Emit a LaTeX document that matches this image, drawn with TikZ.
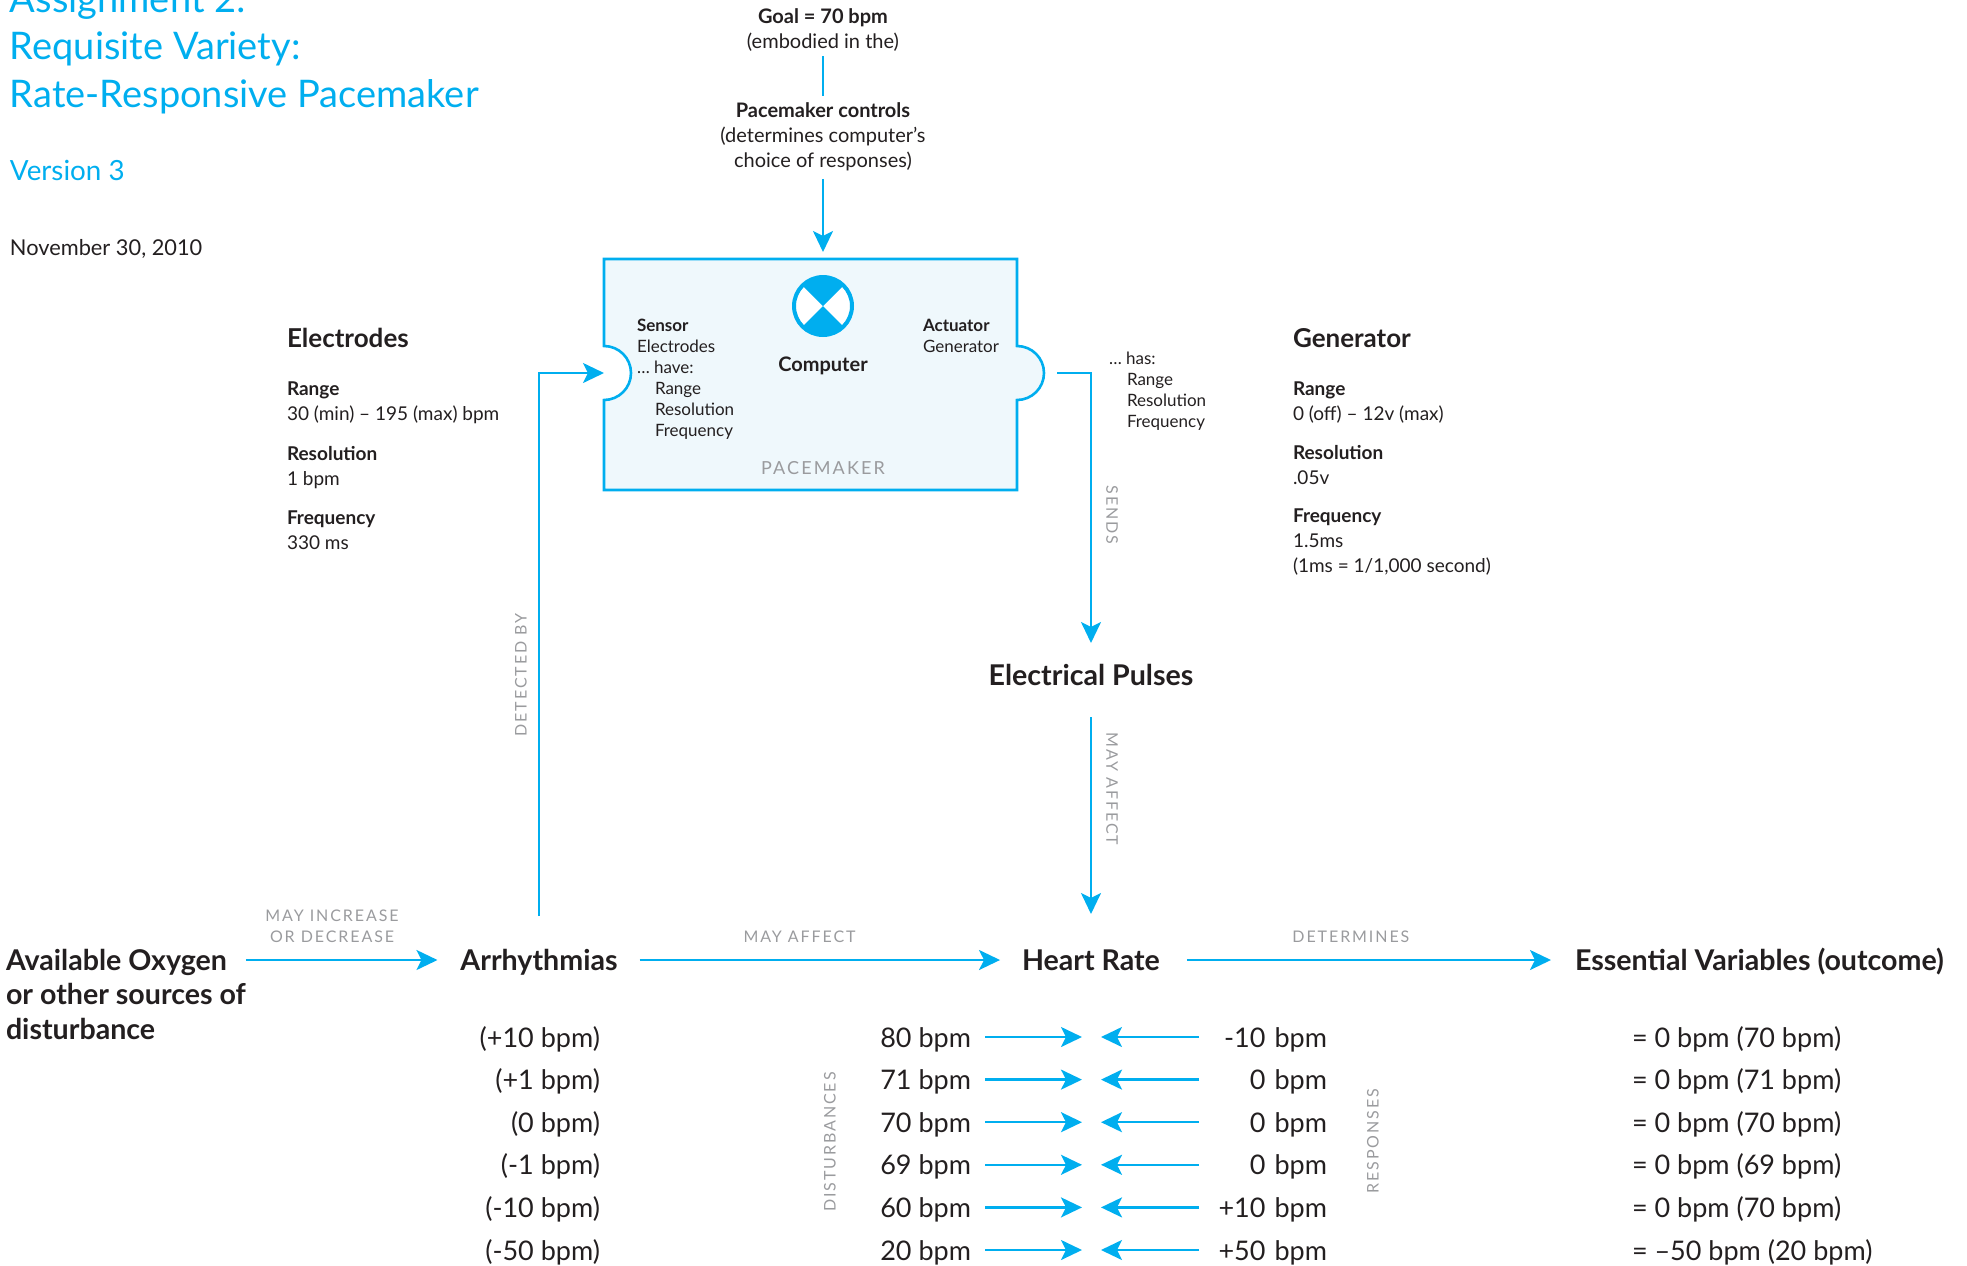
\documentclass[tikz,border=0pt]{standalone}
\usepackage{fontspec}
\setmainfont{Lato}
\newfontfamily\capsfont[LetterSpace=12]{Lato}
\usetikzlibrary{arrows.meta}
\definecolor{sky}{HTML}{00AEEF}
\definecolor{ink}{HTML}{231F20}
\definecolor{mist}{HTML}{9A9B9E}
\definecolor{paleblue}{HTML}{EFF8FC}
\tikzset{
    every node/.style={inner sep=0pt, outer sep=0pt, text=ink}
}
\tikzset{
    flow/.style={draw=sky, line width=1.2pt,
        -{Stealth[length=10.5pt, width=10pt, inset=2.5pt]}},
    wire/.style={draw=sky, line width=1.2pt}
}
\tikzset{
    heading/.style={font=\fontsize{19}{23.75}\selectfont, text=sky},
    note/.style={font=\fontsize{10}{12.4}\selectfont},
    small/.style={font=\fontsize{8.5}{10.5}\selectfont},
    head/.style={font=\bfseries\fontsize{13}{15}\selectfont},
    spec/.style={font=\fontsize{9.5}{12.3}\selectfont},
    bigtext/.style={font=\bfseries\fontsize{14.3}{17.25}\selectfont},
    big/.style={bigtext, text height=11pt, text depth=1pt},
    rowtext/.style={font=\fontsize{13.5}{16}\selectfont, text height=10pt,
        text depth=0pt},
    tag/.style={font=\capsfont\fontsize{8}{10.5}\selectfont, text=mist}
}

\begin{document}
\begin{tikzpicture}[x=0.5pt,y=0.5pt]
  \useasboundingbox (0,0) rectangle (1967,-1265);

  \node (title) [heading, anchor=base west, align=left] at (10,-107)
    {Assignment 2:\\Requisite Variety:\\Rate-Responsive Pacemaker};
  
  \node (version) [anchor=base west, text=sky,
    font=\fontsize{13.9}{16}\selectfont] at (10,-180) {Version 3};
  
  \node (date) [anchor=base west, font=\fontsize{10.9}{13}\selectfont]
    at (10,-255) {November 30, 2010};
  
  \node (goal) [note, align=center, anchor=base] at (823,-48)
    {\textbf{Goal = 70 bpm}\\(embodied in the)};
  
  \node (ctrl) [note, align=center, anchor=base] at (823,-167)
    {\textbf{Pacemaker controls}\\(determines computer’s\\choice of responses)};
  
  \draw [sky, line width=1.3pt, fill=paleblue] (604,-259) -- (1017,-259)
    -- (1017,-346) arc (90:-90:27) -- (1017,-490) -- (604,-490)
    -- (604,-400) arc (-90:90:27) -- cycle;
  \node (pacer) [minimum width=206.5pt, minimum height=115.5pt]
    at (810.5,-374.5) {};
  \coordinate (inport) at (604,-373);
  \coordinate (outport) at (1057,-373);
  
  \node (cpu) [circle, draw=sky, line width=2pt, fill=white,
    minimum size=29pt] at (823,-306) {};
  \fill [sky] (cpu.center) -- +(45:29) arc (45:135:29) -- cycle;
  \fill [sky] (cpu.center) -- +(225:29) arc (225:315:29) -- cycle;
  
  \node (sensor) [small, anchor=base west, align=left] at (637,-436)
    {\textbf{Sensor}\\Electrodes\\… have:\\\hspace*{9pt}Range\\
     \hspace*{9pt}Resolution\\\hspace*{9pt}Frequency};
  
  \node (actuator) [small, anchor=base west, align=left] at (923,-352)
    {\textbf{Actuator}\\Generator};
  
  \node (computer) [anchor=base, font=\bfseries\fontsize{10}{12}\selectfont]
    at (823,-371) {Computer};
  
  \node (pacemaker) [anchor=base, text=mist,
    font=\capsfont\fontsize{9}{10}\selectfont] at (823,-474) {PACEMAKER};
  
  \node (has) [small, anchor=base west, align=left] at (1109,-427)
    {… has:\\\hspace*{9pt}Range\\\hspace*{9pt}Resolution\\
     \hspace*{9pt}Frequency};
  
  \node (electrodes) [head, anchor=base west] at (287,-347) {Electrodes};
  \node (erange) [spec, anchor=base west, align=left] at (287,-420)
    {\textbf{Range}\\30 (min) – 195 (max) bpm};
  \node (eres) [spec, anchor=base west, align=left] at (287,-485)
    {\textbf{Resolution}\\1 bpm};
  \node (efreq) [spec, anchor=base west, align=left] at (287,-549)
    {\textbf{Frequency}\\330 ms};
  
  \node (generator) [head, anchor=base west] at (1293,-347) {Generator};
  \node (grange) [spec, anchor=base west, align=left] at (1293,-420)
    {\textbf{Range}\\0 (off) – 12v (max)};
  \node (gres) [spec, anchor=base west, align=left] at (1293,-484)
    {\textbf{Resolution}\\.05v};
  \node (gfreq) [spec, anchor=base west, align=left] at (1293,-572)
    {\textbf{Frequency}\\1.5ms\\(1ms = 1/1,000 second)};
  
  \node (oxy) [big, anchor=base west] at (6,-970) {Available Oxygen};
  \node (oxymore) [bigtext, anchor=base west, align=left] at (6,-1039)
    {or other sources of\\disturbance};
  \node (arr) [big, anchor=base] at (539,-970) {Arrhythmias};
  \node (hr) [big, anchor=base] at (1091,-970) {Heart Rate};
  \node (ev) [big, anchor=base west] at (1575,-970)
    {Essential Variables (outcome)};
  \node (ep) [big, anchor=base] at (1091,-685) {Electrical Pulses};
  
  \draw [wire, shorten <=2.75pt, shorten >=3.25pt] (goal) -- (ctrl);
  \draw [flow, shorten <=4.25pt, shorten >=3.5pt] (ctrl) -- (ctrl |- pacer.north);
  
  \draw [flow, shorten <=9.5pt, shorten >=11.5pt] (oxy) -- (arr)
    node [tag, align=center, pos=.45, above=8.5pt] {MAY INCREASE\\OR DECREASE};
  \draw [flow, shorten <=11pt, shorten >=11pt] (arr) -- (hr)
    node [tag, pos=.45, above=8.5pt] {MAY AFFECT};
  \draw [flow, shorten <=13.5pt, shorten >=12pt] (hr) -- (ev)
    node [tag, pos=.46, above=8.5pt] {DETERMINES};
  
  \draw [flow, shorten <=16pt] (arr.north) |- (inport);
  \node (detected) [tag, rotate=90] at (521,-675) {DETECTED BY};
  
  \draw [flow, shorten >=10pt] (outport) -| (ep.north);
  \node (sends) [tag, rotate=-90] at (1112,-515) {SENDS};
  
  \draw [flow, shorten <=15pt, shorten >=17pt] (ep) -- (hr);
  \node (affects) [tag, rotate=-90] at (1112,-789) {MAY AFFECT};
  
  \foreach \dis/\hrv/\res/\ess [count=\i] in {
    (+10 bpm)/80 bpm/-10 bpm/= 0 bpm (70 bpm),
    (+1 bpm)/71 bpm/0 bpm/= 0 bpm (71 bpm),
    (0 bpm)/70 bpm/0 bpm/= 0 bpm (70 bpm),
    (-1 bpm)/69 bpm/0 bpm/= 0 bpm (69 bpm),
    (-10 bpm)/60 bpm/+10 bpm/= 0 bpm (70 bpm),
    (-50 bpm)/20 bpm/+50 bpm/= –50 bpm (20 bpm)}{
    \pgfmathsetmacro\yy{-1047-42.6*(\i-1)}
    \node (dis\i) [rowtext, anchor=base east] at (600,\yy) {\dis};
    \node (hr\i) [rowtext, anchor=base east] at (971,\yy) {\hrv};
    \node (res\i) [rowtext, anchor=base east, text width=57pt, align=right]
      at (1327,\yy) {\res};
    \node (ess\i) [rowtext, anchor=base west] at (1632,\yy) {\ess};
    \coordinate (meet\i) at (1091.5,\yy+10);
    \draw [flow, shorten <=7pt, shorten >=4.75pt] (hr\i) -- (meet\i);
    \draw [flow, shorten <=7pt, shorten >=4.75pt] (res\i) -- (meet\i);
  }
  
  \node (disturb) [tag, rotate=90] at (830,-1142) {DISTURBANCES};
  \node (respond) [tag, rotate=90] at (1373,-1141) {RESPONSES};
\end{tikzpicture}
\end{document}
